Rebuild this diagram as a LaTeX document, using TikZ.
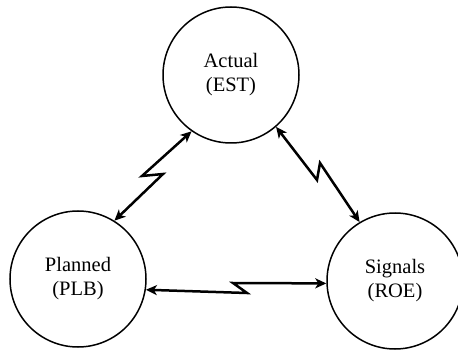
\documentclass[tikz,border=0pt]{standalone}
\usepackage{fontspec}
\setmainfont{Liberation Serif}
\usetikzlibrary{arrows.meta}
\tikzset{
	state/.style={draw, circle, line width=1.5pt, minimum size=136pt, inner sep=0pt, align=center, font=\fontsize{20.5}{24}\selectfont},
	link/.style={line width=2.5pt, {Stealth[length=11pt,width=10pt,inset=3pt]}-{Stealth[length=11pt,width=10pt,inset=3pt]}}
}
\begin{document}
\begin{tikzpicture}[x=1pt, y=-1pt]
		\useasboundingbox (0,0) rectangle (458,350);
		\node[state] (act) at (231,75) {Actual\\(EST)};
		\node[state] (plan) at (78,279) {Planned\\(PLB)};
		\node[state] (sig) at (395,281) {Signals\\(ROE)};
		
		\draw [link] (act.235) -- (142,176) -- (163,174) -- (plan.58);
		\draw [link] (act.311) -- (317,180) -- (320,163) -- (sig.121);
		\draw [link] (plan.351) -- (247,293) -- (233,283) -- (sig.182);
	\end{tikzpicture}
\end{document}
